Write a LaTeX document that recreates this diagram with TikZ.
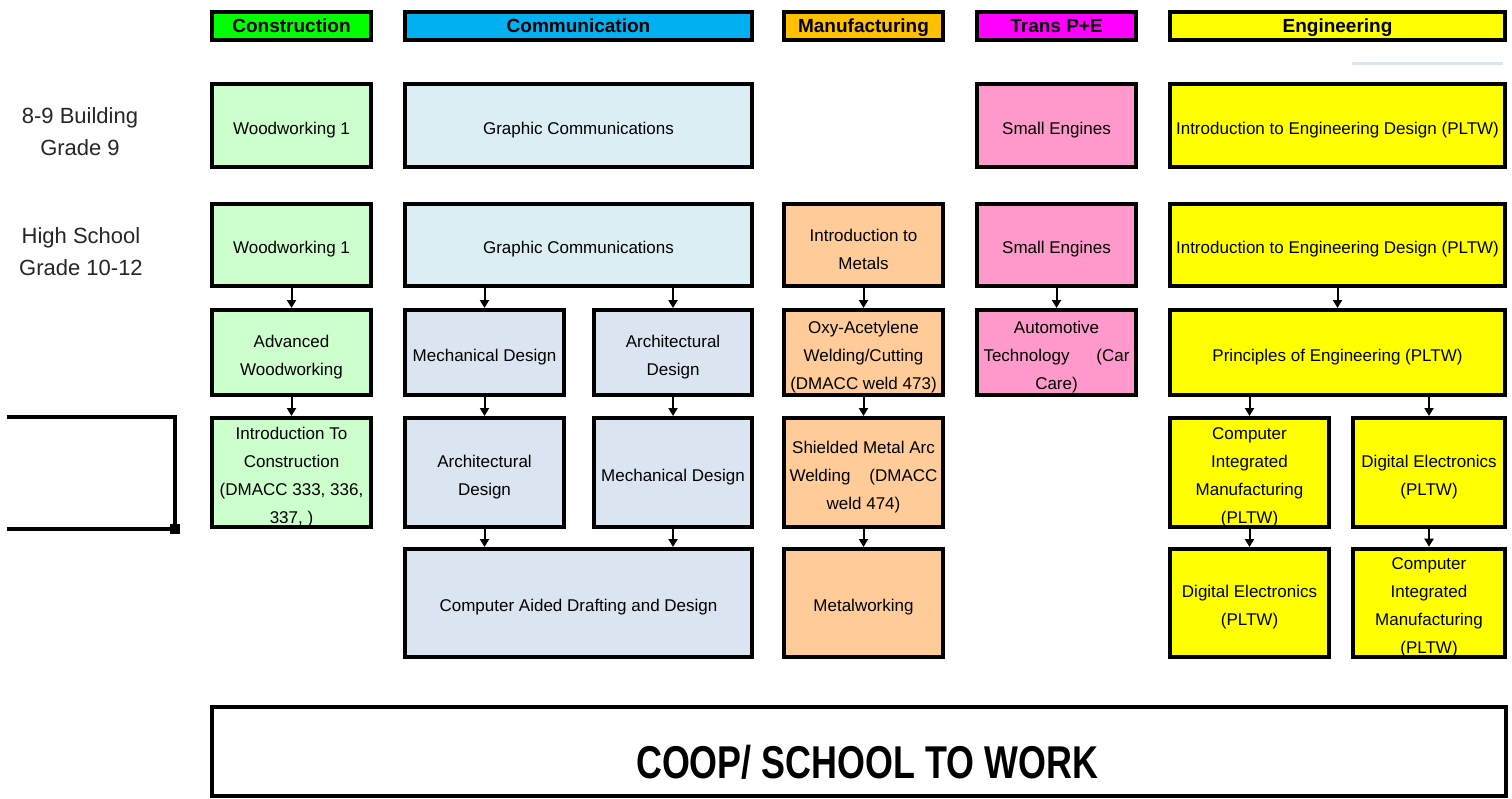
\documentclass[tikz,border=0pt]{standalone}
\usepackage{fontspec}
\setmainfont{Liberation Sans}
\usetikzlibrary{arrows.meta}
\definecolor{hgreen}{HTML}{00FF00}
\definecolor{hblue}{HTML}{00B0F0}
\definecolor{horange}{HTML}{FFC000}
\definecolor{hmagenta}{HTML}{FF00FF}
\definecolor{hyellow}{HTML}{FFFF00}
\definecolor{lgreen}{HTML}{CCFFCC}
\definecolor{lcyan}{HTML}{DAEEF3}
\definecolor{lblue}{HTML}{DBE5F1}
\definecolor{lpink}{HTML}{FF99CC}
\definecolor{lorange}{HTML}{FFCC99}
\definecolor{greyline}{HTML}{DCE2EE}
\newcommand\bodyfont{\fontsize{17}{28}\selectfont}
\newcommand\headfont{\bfseries\fontsize{19}{22}\selectfont}
\newcommand\sidefont{\fontsize{22}{32}\selectfont}
\newcommand\ts{\rule{0pt}{21pt}}
\tikzset{
  box/.style={draw=black, line width=4pt, inner sep=0pt, align=center, font=\bodyfont, text=black},
  head/.style={draw=black, line width=4pt, inner sep=0pt, font=\headfont, minimum height=28pt, text=black,
    text height=13.7pt, text depth=0pt},
  arr/.style={line width=2pt, -{Triangle[width=9pt,length=8pt]}},
  side/.style={align=center, font=\sidefont, text={black!85}},
}
\begin{document}
\begin{tikzpicture}[x=1pt,y=-1pt]
\useasboundingbox[fill=white] (0,0) rectangle (1512,798);

% headers
\node[head, fill=hgreen, minimum width=159pt] (hcon) at (291.5,26) {Construction};
\node[head, fill=hblue, minimum width=347pt] (hcom) at (578.5,26) {Communication};
\node[head, fill=horange, minimum width=159pt] (hman) at (863.5,26) {Manufacturing};
\node[head, fill=hmagenta, minimum width=159pt] (htra) at (1056.5,26) {Trans P+E};
\node[head, fill=hyellow, minimum width=335pt] (heng) at (1337.5,26) {Engineering};

% side labels
\node[side] (lab9) at (80,132) {8-9 Building\\Grade 9};
\node[side] (labhs) at (81,252) {High School\\Grade 10-12};

% row 1
\node[box, fill=lgreen, minimum width=159pt, minimum height=83pt] (ww0) at (291.5,125.5) {\ts Woodworking 1};
\node[box, fill=lcyan, minimum width=347pt, minimum height=83pt] (gc0) at (578.5,125.5) {\ts Graphic Communications};
\node[box, fill=lpink, minimum width=159pt, minimum height=83pt] (se0) at (1056.5,125.5) {\ts Small Engines};
\node[box, fill=hyellow, minimum width=335pt, minimum height=83pt] (ied0) at (1337.5,125.5) {\ts Introduction to Engineering Design (PLTW)};

% row 2
\node[box, fill=lgreen, minimum width=159pt, minimum height=82pt] (ww1) at (291.5,245) {\ts Woodworking 1};
\node[box, fill=lcyan, minimum width=347pt, minimum height=82pt] (gc1) at (578.5,245) {\ts Graphic Communications};
\node[box, fill=lorange, minimum width=159pt, minimum height=82pt] (im1) at (863.5,245) {\ts Introduction to\\Metals};
\node[box, fill=lpink, minimum width=159pt, minimum height=82pt] (se1) at (1056.5,245) {\ts Small Engines};
\node[box, fill=hyellow, minimum width=335pt, minimum height=82pt] (ied1) at (1337.5,245) {\ts Introduction to Engineering Design (PLTW)};

% row 3
\node[box, fill=lgreen, minimum width=159pt, minimum height=85pt] (aw) at (291.5,352.5) {\ts Advanced\\Woodworking};
\node[box, fill=lblue, minimum width=159pt, minimum height=85pt] (md3) at (484.5,352.5) {\ts Mechanical Design};
\node[box, fill=lblue, minimum width=158pt, minimum height=85pt] (ad3) at (673,352.5) {\ts Architectural\\Design};
\node[box, fill=lorange, minimum width=159pt, minimum height=85pt] (oxy) at (863.5,352.5) {\ts Oxy-Acetylene\\Welding/Cutting\\(DMACC weld 473)};
\node[box, fill=lpink, minimum width=159pt, minimum height=85pt] (auto) at (1056.5,352.5) {\ts Automotive\\\makebox[146pt]{Technology\hfill(Car}\\Care)};
\node[box, fill=hyellow, minimum width=335pt, minimum height=85pt] (poe) at (1337.5,352.5) {\ts Principles of Engineering (PLTW)};

% row 4
\node[box, fill=lgreen, minimum width=159pt, minimum height=109pt] (ic) at (291.5,472.5) {\ts Introduction To\\Construction\\(DMACC 333, 336,\\337, )};
\node[box, fill=lblue, minimum width=159pt, minimum height=109pt] (ad4) at (484.5,472.5) {\ts Architectural\\Design};
\node[box, fill=lblue, minimum width=158pt, minimum height=109pt] (md4) at (673,472.5) {\ts Mechanical Design};
\node[box, fill=lorange, minimum width=159pt, minimum height=109pt] (smaw) at (863.5,472.5) {\ts Shielded Metal Arc\\\makebox[148pt]{Welding\hfill(DMACC}\\weld 474)};
\node[box, fill=hyellow, minimum width=159pt, minimum height=109pt] (cim4) at (1249.5,472.5) {\ts Computer\\Integrated\\Manufacturing\\(PLTW)};
\node[box, fill=hyellow, minimum width=152pt, minimum height=109pt] (de4) at (1429,472.5) {\ts Digital Electronics\\(PLTW)};

% row 5
\node[box, fill=lblue, minimum width=347pt, minimum height=108pt] (cad) at (578.5,603) {\ts Computer Aided Drafting and Design};
\node[box, fill=lorange, minimum width=159pt, minimum height=108pt] (mw) at (863.5,603) {\ts Metalworking};
\node[box, fill=hyellow, minimum width=159pt, minimum height=108pt] (de5) at (1249.5,603) {\ts Digital Electronics\\(PLTW)};
\node[box, fill=hyellow, minimum width=152pt, minimum height=108pt] (cim5) at (1429,603) {\ts Computer\\Integrated\\Manufacturing\\(PLTW)};

% coop box
\node[draw=black, line width=4pt, minimum width=1294pt, minimum height=89pt, inner sep=0pt] (coop) at (859,751.5) {};
\node[font=\bfseries\fontsize{46}{50}\selectfont, inner sep=0pt] (cooptext) at (867,762) {\scalebox{0.78}[1]{COOP/ SCHOOL TO WORK}};

% arrows
\draw[arr] (ww1.south) -- (aw.north);
\draw[arr] (aw.south) -- (ic.north);
\draw[arr] (gc1.south -| md3.north) -- (md3.north);
\draw[arr] (gc1.south -| ad3.north) -- (ad3.north);
\draw[arr] (md3.south) -- (ad4.north);
\draw[arr] (ad3.south) -- (md4.north);
\draw[arr] (ad4.south) -- (cad.north -| ad4.south);
\draw[arr] (md4.south) -- (cad.north -| md4.south);
\draw[arr] (im1.south) -- (oxy.north);
\draw[arr] (oxy.south) -- (smaw.north);
\draw[arr] (smaw.south) -- (mw.north);
\draw[arr] (se1.south) -- (auto.north);
\draw[arr] (ied1.south) -- (poe.north);
\draw[arr] (poe.south -| cim4.north) -- (cim4.north);
\draw[arr] (poe.south -| de4.north) -- (de4.north);
\draw[arr] (cim4.south) -- (de5.north);
\draw[arr] (de4.south) -- (cim5.north);

% left bracket
\draw[line width=4pt] (7,417) -- (175,417) -- (175,529) -- (7,529);
\fill[black] (170,524) rectangle (180,534);

% thin grey line top right
\draw[line width=3pt, greyline] (1352,63) -- (1503,63);
\end{tikzpicture}
\end{document}
